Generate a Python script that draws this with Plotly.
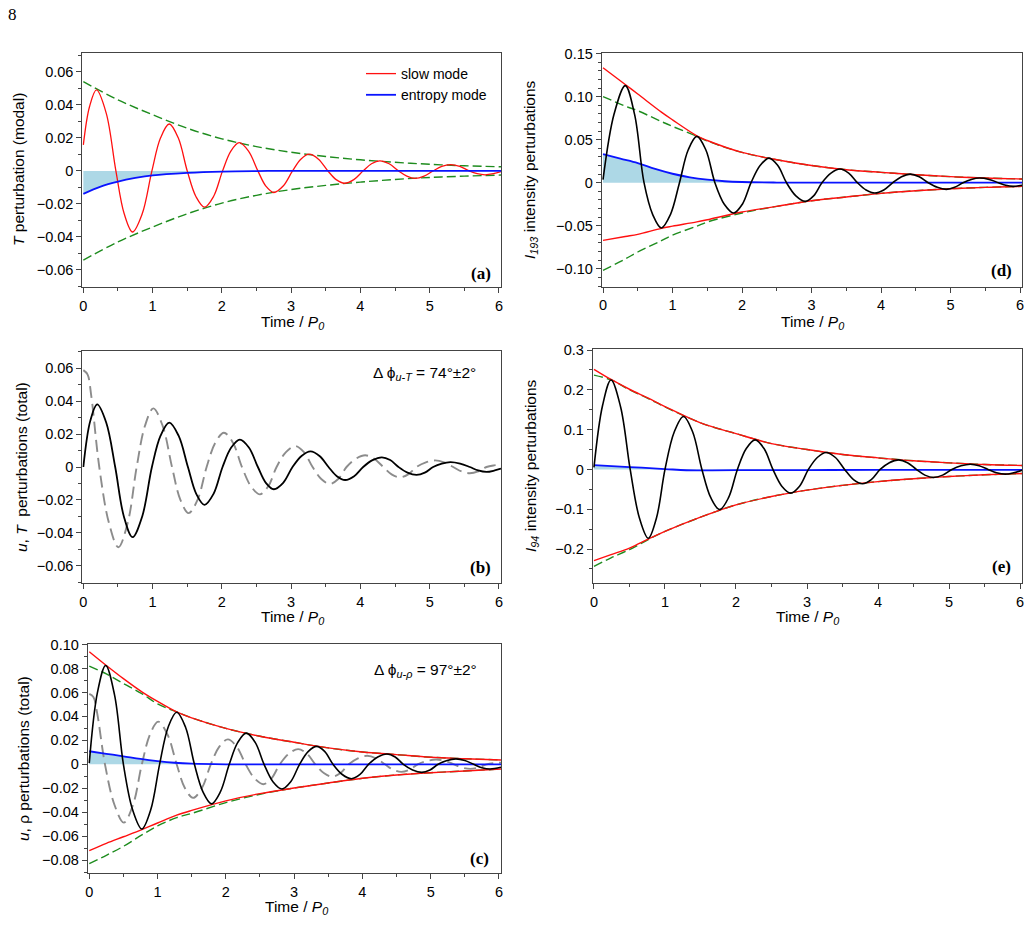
import plotly.graph_objects as go

W, H = 1032, 940
FONT = "Liberation Sans"
SERIF = "Liberation Serif"
FRAME = "#444444"
RED = "#ff1010"
BLUE = "#0a14ff"
GREEN = "#1e8c1e"
GRAY = "#8c8c8c"
BLACK = "#000000"
FILL = "#add8e6"

# ---------------- data ----------------
# (a) modal T perturbation: slow mode, entropy mode, envelope
a_slow_t = [0, 0.09, 0.19, 0.33, 0.47, 0.59, 0.71, 0.85, 0.99, 1.115, 1.24, 1.37, 1.50, 1.625, 1.75, 1.88,
            2.01, 2.13, 2.25, 2.385, 2.52, 2.635, 2.75, 2.885, 3.02, 3.14, 3.26, 3.395, 3.53, 3.65, 3.77,
            3.905, 4.04, 4.16, 4.28, 4.415, 4.55, 4.67, 4.79, 4.92, 5.05, 5.175, 5.30, 5.435, 5.57, 5.685,
            5.80, 5.92, 6.03]
a_slow_v = [0.0157, 0.039, 0.049, 0.035, 0, -0.026, -0.037, -0.026, 0, 0.020, 0.0284, 0.020, 0, -0.0155,
            -0.022, -0.0155, 0, 0.012, 0.0171, 0.012, 0, -0.0092, -0.0131, -0.0092, 0, 0.0071, 0.0101,
            0.0071, 0, -0.0053, -0.0075, -0.0053, 0, 0.0043, 0.0061, 0.0043, 0, -0.0032, -0.0046, -0.0032,
            0, 0.0027, 0.0038, 0.0027, 0, -0.0017, -0.0024, -0.0017, -0.0004]
a_ent_t = [0, 0.25, 0.5, 0.75, 1, 1.5, 2, 2.5, 3, 4, 5, 6.03]
a_ent_v = [-0.0139, -0.0095, -0.0065, -0.0043, -0.0027, -0.0012, -0.0004, -0.0001, 0, 0, 0, 0]
a_env_t = [0, 0.5, 1, 1.5, 2, 2.5, 3, 3.5, 4, 4.5, 5, 5.5, 6.03]
a_env_up = [0.054, 0.043, 0.034, 0.0258, 0.0194, 0.0147, 0.0113, 0.0087, 0.0067, 0.0052, 0.004, 0.0031, 0.0025]
a_env_lo = [-0.054, -0.043, -0.034, -0.026, -0.0195, -0.0148, -0.0113, -0.0088, -0.0068, -0.0052, -0.004,
            -0.0032, -0.0025]

# u perturbation (total), shared by (b) and (c)
u_t = [0, 0.06, 0.115, 0.23, 0.37, 0.505, 0.64, 0.77, 0.89, 1.01, 1.145, 1.28, 1.40, 1.52, 1.65, 1.78, 1.905,
       2.03, 2.16, 2.29, 2.42, 2.55, 2.67, 2.79, 2.925, 3.06, 3.185, 3.31, 3.435, 3.56, 3.68, 3.80, 3.935,
       4.07, 4.20, 4.33, 4.45, 4.57, 4.69, 4.81, 4.945, 5.08, 5.21, 5.34, 5.46, 5.58, 5.70, 5.82, 5.93, 6.04]
u_v = [0.0588, 0.0562, 0.043, 0, -0.034, -0.0487, -0.034, 0, 0.025, 0.0356, 0.025, 0, -0.0198, -0.028,
       -0.0198, 0, 0.0147, 0.0208, 0.0147, 0, -0.0117, -0.0166, -0.0117, 0, 0.009, 0.0127, 0.009, 0,
       -0.0073, -0.0103, -0.0073, 0, 0.005, 0.0071, 0.005, 0, -0.0045, -0.0063, -0.0045, 0, 0.0028, 0.004,
       0.0028, 0, -0.0027, -0.0038, -0.0027, 0, 0.0010, 0.0014]

# (b) T perturbation (total)
b_T_t = [0, 0.10, 0.20, 0.33, 0.46, 0.585, 0.71, 0.85, 0.99, 1.115, 1.24, 1.375, 1.51, 1.63, 1.75, 1.88,
         2.01, 2.135, 2.26, 2.39, 2.52, 2.635, 2.75, 2.885, 3.02, 3.15, 3.28, 3.41, 3.54, 3.66, 3.78, 3.91,
         4.04, 4.175, 4.31, 4.43, 4.55, 4.68, 4.81, 4.93, 5.05, 5.175, 5.30, 5.44, 5.58, 5.70, 5.82, 5.94, 6.03]
b_T_v = [0, 0.028, 0.038, 0.027, 0, -0.030, -0.0426, -0.030, 0, 0.019, 0.0269, 0.019, 0, -0.0163, -0.023,
         -0.0163, 0, 0.0118, 0.0166, 0.0118, 0, -0.0096, -0.0135, -0.0096, 0, 0.0067, 0.0095, 0.0067, 0,
         -0.0056, -0.0079, -0.0056, 0, 0.0042, 0.0059, 0.0042, 0, -0.0034, -0.0048, -0.0034, 0, 0.0021,
         0.0030, 0.0021, 0, -0.0021, -0.0030, -0.0021, -0.0010]

# (c) rho perturbation (total), envelopes, entropy mode
c_rho_t = [0, 0.12, 0.24, 0.37, 0.50, 0.635, 0.77, 0.90, 1.03, 1.155, 1.28, 1.41, 1.54, 1.665, 1.79, 1.92,
           2.05, 2.175, 2.30, 2.43, 2.56, 2.69, 2.82, 2.95, 3.08, 3.205, 3.33, 3.45, 3.57, 3.705, 3.84, 3.965,
           4.09, 4.225, 4.36, 4.48, 4.60, 4.735, 4.87, 4.99, 5.11, 5.24, 5.37, 5.50, 5.63, 5.75, 5.87, 6.03]
c_rho_v = [0.001, 0.060, 0.0825, 0.058, 0, -0.038, -0.054, -0.038, 0, 0.031, 0.0435, 0.031, 0, -0.023,
           -0.033, -0.023, 0, 0.0183, 0.026, 0.0183, 0, -0.0145, -0.0206, -0.0145, 0, 0.0106, 0.015, 0.0106,
           0, -0.0085, -0.012, -0.0085, 0, 0.0061, 0.0086, 0.0061, 0, -0.0047, -0.0067, -0.0047, 0, 0.0032,
           0.0045, 0.0032, 0, -0.0028, -0.0039, -0.0025]
c_env_t = [0, 0.25, 0.5, 0.77, 1, 1.28, 1.5, 2, 2.5, 3, 3.5, 4, 4.5, 5, 5.5, 6.03]
c_red_up = [0.094, 0.0825, 0.0715, 0.0605, 0.0525, 0.0437, 0.0388, 0.030, 0.0234, 0.0184, 0.0137, 0.0103,
            0.0081, 0.0059, 0.0047, 0.0036]
c_red_lo = [-0.072, -0.066, -0.0605, -0.0545, -0.049, -0.0425, -0.0385, -0.0305, -0.0245, -0.0198, -0.0156,
            -0.0117, -0.0089, -0.007, -0.0056, -0.0039]
c_grn_up = [0.082, 0.0755, 0.0675, 0.059, 0.0505, 0.0437, 0.0388, 0.030, 0.0234, 0.0184, 0.0137, 0.0103,
            0.0081, 0.0059, 0.0047, 0.0036]
c_grn_lo = [-0.083, -0.076, -0.0685, -0.059, -0.0515, -0.0445, -0.041, -0.032, -0.0250, -0.0198, -0.0156,
            -0.0117, -0.0089, -0.007, -0.0056, -0.0039]
c_ent_t = [0, 0.25, 0.5, 0.75, 1, 1.25, 1.5, 2, 3, 4, 5, 6.03]
c_ent_v = [0.0109, 0.0088, 0.0067, 0.0045, 0.0027, 0.0013, 0.0005, 0, 0, 0, 0, 0]

# (d) I_193 intensity perturbations
d_I_t = [0, 0.16, 0.32, 0.455, 0.59, 0.715, 0.84, 0.97, 1.10, 1.225, 1.35, 1.48, 1.61, 1.745, 1.88, 2.005,
         2.13, 2.26, 2.39, 2.515, 2.64, 2.775, 2.91, 3.03, 3.15, 3.28, 3.41, 3.535, 3.66, 3.785, 3.91, 4.04,
         4.17, 4.295, 4.42, 4.55, 4.68, 4.81, 4.94, 5.06, 5.18, 5.30, 5.42, 5.555, 5.69, 5.795, 5.90, 6.03]
d_I_v = [0.0035, 0.080, 0.1128, 0.079, 0, -0.037, -0.0526, -0.037, 0, 0.038, 0.0538, 0.038, 0, -0.025,
         -0.0352, -0.025, 0, 0.020, 0.0286, 0.020, 0, -0.0153, -0.0217, -0.0153, 0, 0.0112, 0.0159, 0.0112,
         0, -0.0085, -0.012, -0.0085, 0, 0.007, 0.010, 0.007, 0, -0.0054, -0.0077, -0.0054, 0, 0.0038,
         0.0054, 0.0038, 0, -0.003, -0.0043, -0.003]
d_env_t = [0, 0.32, 0.5, 0.84, 1, 1.35, 1.5, 2, 2.5, 3, 3.5, 4, 4.5, 5, 5.5, 6.03]
d_red_up = [0.1335, 0.114, 0.103, 0.082, 0.073, 0.0545, 0.049, 0.0352, 0.0267, 0.020, 0.0151, 0.012, 0.0093,
            0.007, 0.0054, 0.0043]
d_red_lo = [-0.067, -0.0625, -0.060, -0.053, -0.0505, -0.0455, -0.043, -0.034, -0.0275, -0.021, -0.0166,
            -0.0124, -0.0093, -0.007, -0.0054, -0.0043]
d_grn_up = [0.1, 0.089, 0.0836, 0.071, 0.0654, 0.054, 0.0485, 0.0352, 0.0267, 0.020, 0.0151, 0.012, 0.0093,
            0.007, 0.0054, 0.0043]
d_grn_lo = [-0.1018, -0.0886, -0.0805, -0.0673, -0.0608, -0.0505, -0.0457, -0.0352, -0.0275, -0.021,
            -0.0166, -0.0124, -0.0093, -0.007, -0.0054, -0.0043]
d_ent_t = [0, 0.25, 0.5, 0.75, 1, 1.25, 1.5, 1.75, 2, 2.5, 3, 4, 5, 6.03]
d_ent_v = [0.0333, 0.028, 0.0228, 0.016, 0.0104, 0.0063, 0.0035, 0.0017, 0.0008, 0.0002, 0, 0, 0, 0]

# (e) I_94 intensity perturbations
e_I_t = [0, 0.12, 0.24, 0.375, 0.51, 0.64, 0.765, 0.88, 1.0, 1.13, 1.26, 1.39, 1.52, 1.645, 1.77, 1.895,
         2.02, 2.145, 2.27, 2.395, 2.52, 2.645, 2.77, 2.895, 3.02, 3.145, 3.27, 3.40, 3.53, 3.655, 3.78,
         3.905, 4.03, 4.16, 4.29, 4.415, 4.54, 4.66, 4.78, 4.91, 5.04, 5.17, 5.30, 5.425, 5.55, 5.67, 5.79,
         5.91, 6.03]
e_I_v = [0.005, 0.16, 0.2247, 0.157, 0, -0.122, -0.173, -0.122, 0, 0.094, 0.133, 0.094, 0, -0.071, -0.101,
         -0.071, 0, 0.0525, 0.0743, 0.0525, 0, -0.042, -0.0595, -0.042, 0, 0.030, 0.0425, 0.030, 0,
         -0.0255, -0.036, -0.0255, 0, 0.017, 0.024, 0.017, 0, -0.0143, -0.0203, -0.0143, 0, 0.0093, 0.0132,
         0.0093, 0, -0.0084, -0.0119, -0.0084, -0.002]
e_env_t = [0, 0.24, 0.5, 0.765, 1, 1.5, 2, 2.5, 3, 3.5, 4, 4.5, 5, 5.5, 6.03]
e_red_up = [0.2515, 0.226, 0.2014, 0.179, 0.158, 0.117, 0.09, 0.065, 0.050, 0.0375, 0.029, 0.0217, 0.0166,
            0.0124, 0.0099]
e_red_lo = [-0.229, -0.214, -0.1975, -0.175, -0.1557, -0.120, -0.089, -0.068, -0.052, -0.040, -0.0305,
            -0.0235, -0.0177, -0.0135, -0.0102]
e_grn_up = [0.237, 0.2247, 0.2, 0.178, 0.157, 0.117, 0.09, 0.065, 0.050, 0.0375, 0.029, 0.0217, 0.0166,
            0.0124, 0.0099]
e_grn_lo = [-0.2435, -0.222, -0.2015, -0.176, -0.1557, -0.120, -0.089, -0.068, -0.052, -0.040, -0.0305,
            -0.0235, -0.0177, -0.0135, -0.0102]
e_ent_t = [0, 0.5, 1, 1.3, 1.6, 2, 3, 4, 5, 6.03]
e_ent_v = [0.0107, 0.006, 0.001, -0.002, -0.0022, -0.0018, -0.0015, -0.0012, -0.001, -0.001]

# tick labels
x_ticks = [0, 1, 2, 3, 4, 5, 6]
x_ticklabels = ["0", "1", "2", "3", "4", "5", "6"]
y_ticks_ab = [-0.06, -0.04, -0.02, 0, 0.02, 0.04, 0.06]
y_labels_ab = ["\u22120.06", "\u22120.04", "\u22120.02", "0", "0.02", "0.04", "0.06"]
y_ticks_c = [-0.08, -0.06, -0.04, -0.02, 0, 0.02, 0.04, 0.06, 0.08, 0.10]
y_labels_c = ["\u22120.08", "\u22120.06", "\u22120.04", "\u22120.02", "0", "0.02", "0.04", "0.06", "0.08", "0.10"]
y_ticks_d = [-0.10, -0.05, 0, 0.05, 0.10, 0.15]
y_labels_d = ["\u22120.10", "\u22120.05", "0", "0.05", "0.10", "0.15"]
y_ticks_e = [-0.2, -0.1, 0, 0.1, 0.2, 0.3]
y_labels_e = ["\u22120.2", "\u22120.1", "0", "0.1", "0.2", "0.3"]

# ---------------- layout helpers ----------------
def px_x(px):
    return px / W


def px_y(py):
    return 1 - py / H


# panel boxes in pixels: left, right, top, bottom
panels = {
    "a": dict(box=(82.3, 501.0, 53.3, 287.3), xr=[-0.015, 6.03], yr=[-0.0705, 0.0712], ax=""),
    "d": dict(box=(601.7, 1022.3, 52.7, 286.7), xr=[-0.019, 6.033], yr=[-0.1208, 0.151], ax="2"),
    "b": dict(box=(82.3, 501.0, 350.7, 583.3), xr=[-0.015, 6.03], yr=[-0.0706, 0.0706], ax="3"),
    "e": dict(box=(592.7, 1022.3, 349.0, 583.3), xr=[-0.018, 6.032], yr=[-0.286, 0.3025], ax="4"),
    "c": dict(box=(87.7, 501.0, 644.3, 873.3), xr=[-0.023, 6.03], yr=[-0.091, 0.1002], ax="5"),
}
yticks = {"a": (y_ticks_ab, y_labels_ab, 0.01), "b": (y_ticks_ab, y_labels_ab, 0.01),
          "c": (y_ticks_c, y_labels_c, 0.01), "d": (y_ticks_d, y_labels_d, 0.01),
          "e": (y_ticks_e, y_labels_e, 0.05)}

fig = go.Figure()


def add(panel, t, v, color, width, dash="solid", name=None, legend=False, fill=False):
    ax = panels[panel]["ax"]
    if fill:
        fig.add_trace(go.Scatter(x=t, y=v, mode="lines", line=dict(width=0, shape="spline", color=FILL),
                                 fill="tozeroy", fillcolor=FILL, showlegend=False, hoverinfo="skip",
                                 xaxis="x" + ax, yaxis="y" + ax))
        return
    fig.add_trace(go.Scatter(x=t, y=v, mode="lines", name=name, showlegend=legend,
                             line=dict(color=color, width=width, dash=dash, shape="spline"),
                             xaxis="x" + ax, yaxis="y" + ax))


GDASH = "9px,4px"
UDASH = "12px,6px"

# (a)
add("a", a_ent_t, a_ent_v, None, 0, fill=True)
add("a", a_env_t, a_env_up, GREEN, 1.4, GDASH)
add("a", a_env_t, a_env_lo, GREEN, 1.4, GDASH)
add("a", a_slow_t, a_slow_v, RED, 1.3, name="slow mode", legend=True)
add("a", a_ent_t, a_ent_v, BLUE, 1.8, name="entropy mode", legend=True)

# (b)
add("b", u_t, u_v, GRAY, 1.9, UDASH)
add("b", b_T_t, b_T_v, BLACK, 1.8)

# (c)
add("c", c_ent_t, c_ent_v, None, 0, fill=True)
add("c", c_env_t, c_grn_up, GREEN, 1.4, GDASH)
add("c", c_env_t, c_grn_lo, GREEN, 1.4, GDASH)
add("c", c_env_t, c_red_up, RED, 1.4)
add("c", c_env_t, c_red_lo, RED, 1.4)
add("c", u_t, u_v, GRAY, 1.9, UDASH)
add("c", c_ent_t, c_ent_v, BLUE, 1.8)
add("c", c_rho_t, c_rho_v, BLACK, 1.6)

# (d)
add("d", d_ent_t, d_ent_v, None, 0, fill=True)
add("d", d_env_t, d_grn_up, GREEN, 1.4, GDASH)
add("d", d_env_t, d_grn_lo, GREEN, 1.4, GDASH)
add("d", d_env_t, d_red_up, RED, 1.4)
add("d", d_env_t, d_red_lo, RED, 1.4)
add("d", d_ent_t, d_ent_v, BLUE, 1.8)
add("d", d_I_t, d_I_v, BLACK, 1.6)

# (e)
add("e", e_ent_t, e_ent_v, None, 0, fill=True)
add("e", e_env_t, e_grn_up, GREEN, 1.4, GDASH)
add("e", e_env_t, e_grn_lo, GREEN, 1.4, GDASH)
add("e", e_env_t, e_red_up, RED, 1.4)
add("e", e_env_t, e_red_lo, RED, 1.4)
add("e", e_ent_t, e_ent_v, BLUE, 1.8)
add("e", e_I_t, e_I_v, BLACK, 1.6)

tickfont = dict(family=FONT, size=14.5, color="black")
layout_axes = {}
for key, p in panels.items():
    l, r, t, b = p["box"]
    ax = p["ax"]
    common = dict(showline=True, mirror=True, linecolor=FRAME, linewidth=1, ticks="outside", ticklen=5,
                  tickwidth=1, tickcolor=FRAME, showgrid=False, zeroline=False, tickfont=tickfont,
                  fixedrange=True, automargin=False)
    minor_x = [k * 0.5 for k in range(0, 13) if k % 2 == 1]
    layout_axes["xaxis" + ax] = dict(common, domain=[px_x(l), px_x(r)], range=p["xr"],
                                     anchor="y" + ax, tickmode="array", tickvals=x_ticks,
                                     ticktext=x_ticklabels,
                                     minor=dict(tickmode="array", tickvals=minor_x, ticks="outside",
                                                ticklen=3, tickwidth=1, tickcolor=FRAME, showgrid=False))
    tv, tt, mstep = yticks[key]
    lo, hi = p["yr"]
    n0 = int(round(lo / mstep)) - 1
    n1 = int(round(hi / mstep)) + 1
    minor_y = [round(k * mstep, 4) for k in range(n0, n1 + 1)
               if lo <= k * mstep <= hi and all(abs(k * mstep - m) > 1e-9 for m in tv)]
    layout_axes["yaxis" + ax] = dict(common, domain=[px_y(b), px_y(t)], range=p["yr"],
                                     anchor="x" + ax, tickmode="array", tickvals=tv, ticktext=tt,
                                     minor=dict(tickmode="array", tickvals=minor_y, ticks="outside",
                                                ticklen=3, tickwidth=1, tickcolor=FRAME, showgrid=False))

annotations = []


def ann(text, x, y, size=15.5, family=FONT, angle=0, xanchor="center", yanchor="middle"):
    annotations.append(dict(text=text, x=px_x(x), y=px_y(y), xref="paper", yref="paper", showarrow=False,
                            textangle=angle, xanchor=xanchor, yanchor=yanchor,
                            font=dict(family=family, size=size, color="black")))


# page number
ann("8", 6, 15, size=17, family=SERIF, xanchor="left")

# x titles
xtitle = "Time / <i>P</i><sub><i>0</i></sub>"
ann(xtitle, 292, 322)
ann(xtitle, 812, 322)
ann(xtitle, 292, 617)
ann(xtitle, 807, 617)
ann(xtitle, 296, 907)

# y titles
ann("<i>T</i> perturbation (modal)", 19, 170, angle=-90)
ann("<i>u</i>, <i>T</i>  perturbations (total)", 21, 467, angle=-90)
ann("<i>u</i>, \u03c1 perturbations (total)", 23, 759, angle=-90)
ann("<i>I</i><sub><i>193</i></sub> intensity perturbations", 531, 170, angle=-90)
ann("<i>I</i><sub><i>94</i></sub> intensity perturbations", 531, 466, angle=-90)

# panel labels
ann("<b>(a)</b>", 493, 273, size=17, family=SERIF, xanchor="right")
ann("<b>(d)</b>", 1014, 271, size=17, family=SERIF, xanchor="right")
ann("<b>(b)</b>", 493, 567, size=17, family=SERIF, xanchor="right")
ann("<b>(e)</b>", 1013, 566, size=17, family=SERIF, xanchor="right")
ann("<b>(c)</b>", 491, 858, size=17, family=SERIF, xanchor="right")

# phase annotations
ann("\u0394 \u03d5<sub><i>u-T</i></sub> = 74\u00b0\u00b12\u00b0", 424, 373)
ann("\u0394 \u03d5<sub><i>u-\u03c1</i></sub> = 97\u00b0\u00b12\u00b0", 425, 670)

fig.update_layout(
    width=W, height=H, margin=dict(l=0, r=0, t=0, b=0, pad=0, autoexpand=False),
    paper_bgcolor="white", plot_bgcolor="white",
    font=dict(family=FONT, size=15, color="black"),
    showlegend=True,
    legend=dict(x=px_x(361), y=px_y(58), xanchor="left", yanchor="top", bgcolor="rgba(0,0,0,0)",
                borderwidth=0, font=dict(family=FONT, size=14, color="black"), tracegroupgap=0),
    annotations=annotations,
    **layout_axes,
)

fig.write_html("out.html")
